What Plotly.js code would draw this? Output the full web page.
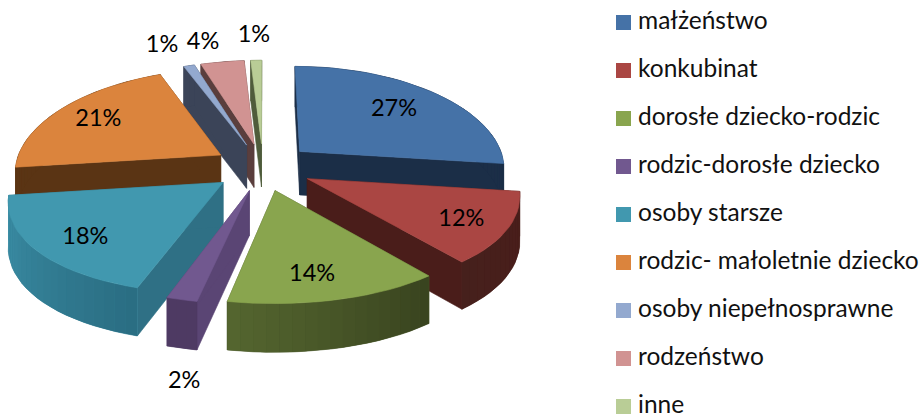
<!DOCTYPE html>
<html><head><meta charset="utf-8">
<script src="https://cdn.plot.ly/plotly-3.0.1.min.js"></script>
<style>html,body{margin:0;padding:0;background:#fff}#c{width:921px;height:417px}</style>
</head><body><div id="c"></div>
<script>
const categories = ["małżeństwo","konkubinat","dorosłe dziecko-rodzic","rodzic-dorosłe dziecko","osoby starsze","rodzic- małoletnie dziecko","osoby niepełnosprawne","rodzeństwo","inne"];
const values = [27,12,14,2,18,21,1,4,1];
const topColors = ["#4572A7","#AA4643","#89A54E","#71588F","#4198AF","#DB843D","#93A9CF","#D19392","#B9CD96"];
const wallStart = ["#1B2E47","#4A1D1A","#38431E","#4E3A63","#2A6D82","#5A3414","#3B4458","#5A3E3D","#4F5C3B"];
const wallEnd   = ["#1B2E47","#46201C","#55662F","#4E3A63","#3C90A8","#5A3414","#3B4458","#5A3E3D","#4F5C3B"];
const capColors = ["#1B2E47","#4A1D1A","#4A5A2A","#5A4574","#2F7085","#5A3414","#3B4458","#5A3E3D","#4F5C3B"];
const labelRadius = [0.69,0.79,0.78,1.62,0.78,0.75,1.31,1.28,1.34];
const labelAngle  = [48,120,168.5,187,228,300,337,346,358];

// projection of the tilted pie
const cx=263, cy=167, R=206, explode=50, thick=44;
const rad=d=>d*Math.PI/180;
function proj(X,Y,down){
  const s=1/(1+0.00072*Y);
  return [cx+X*s+0.015*Math.min(Y,0), cy-(0.477*Y-0.000235*Y*Y)+(down?thick*Math.sqrt(s):0)];
}
function pt(r,ang,mid,down){
  return proj(r*Math.sin(rad(ang))+explode*Math.sin(rad(mid)), r*Math.cos(rad(ang))+explode*Math.cos(rad(mid)), down);
}
function hex(c){return [1,3,5].map(i=>parseInt(c.substr(i,2),16));}
function mix(a,b,t){const A=hex(a),B=hex(b);return "rgb("+A.map((v,i)=>Math.round(v+(B[i]-v)*t)).join(",")+")";}
function poly(pts,color,lw){
  return {type:"scatter",mode:"lines",x:pts.map(p=>p[0]).concat(pts[0][0]),y:pts.map(p=>p[1]).concat(pts[0][1]),
    fill:"toself",fillcolor:color,line:{color:color,width:lw===undefined?0.6:lw},hoverinfo:"skip",showlegend:false};
}
const total=values.reduce((a,b)=>a+b,0);
let acc=0;
const slices=values.map((v,i)=>{const a0=acc/total*360;acc+=v;const a1=acc/total*360;return {i,a0,a1,mid:(a0+a1)/2};});
const order=slices.slice().sort((p,q)=>Math.cos(rad(q.mid))-Math.cos(rad(p.mid)));

const traces=[];
order.forEach(s=>{
  const {i,a0,a1,mid}=s;
  const ap=pt(0,0,mid,false), apD=pt(0,0,mid,true);
  const p0=pt(R,a0,mid,false),p0D=pt(R,a0,mid,true),p1=pt(R,a1,mid,false),p1D=pt(R,a1,mid,true);
  traces.push(poly([ap,p0,p0D,apD],capColors[i]));
  traces.push(poly([ap,p1,p1D,apD],capColors[i]));
  const n=Math.max(2,Math.ceil((a1-a0)/3));
  const rimTop=[],rimBottom=[];
  for(let k=0;k<=n;k++){const a=a0+(a1-a0)*k/n;rimTop.push(pt(R,a,mid,false));rimBottom.unshift(pt(R,a,mid,true));}
  traces.push(poly(rimTop.concat(rimBottom),mix(wallStart[i],wallEnd[i],0.5),0.6));
  for(let k=0;k<n;k++){
    const b0=a0+(a1-a0)*k/n,b1=a0+(a1-a0)*(k+1)/n;
    traces.push(poly([pt(R,b0,mid,false),pt(R,b1,mid,false),pt(R,b1,mid,true),pt(R,b0,mid,true)],mix(wallStart[i],wallEnd[i],(k+0.5)/n),0));
  }
  traces.push(poly([ap].concat(rimTop),topColors[i]));
});
// value labels
const lab=slices.map(s=>pt(labelRadius[s.i]*R,labelAngle[s.i],s.mid,false));
traces.push({type:"scatter",mode:"text",x:lab.map(p=>p[0]),y:lab.map(p=>p[1]),text:values.map(v=>v+"%"),
  textposition:"middle center",textfont:{family:"Lato, sans-serif",size:23.5,color:"#000"},hoverinfo:"skip",showlegend:false});
// legend column
const rowY=categories.map((c,i)=>22.5+48*i);
traces.push({type:"scatter",mode:"markers",x:categories.map(()=>623.5),y:rowY,
  marker:{symbol:"square",size:15,color:topColors,line:{width:0}},hoverinfo:"skip",showlegend:false});
traces.push({type:"scatter",mode:"text",x:categories.map(()=>638),y:rowY,text:categories,textposition:"middle right",
  textfont:{family:"Lato, sans-serif",size:24.5,color:"#111"},hoverinfo:"skip",showlegend:false,cliponaxis:false});

const layout={width:921,height:417,margin:{l:0,r:0,t:0,b:0},paper_bgcolor:"#fff",plot_bgcolor:"#fff",
  xaxis:{range:[0,921],visible:false,fixedrange:true},
  yaxis:{range:[417,0],visible:false,fixedrange:true},
  showlegend:false
};
Plotly.newPlot("c",traces,layout,{displayModeBar:false,staticPlot:true});
</script></body></html>
